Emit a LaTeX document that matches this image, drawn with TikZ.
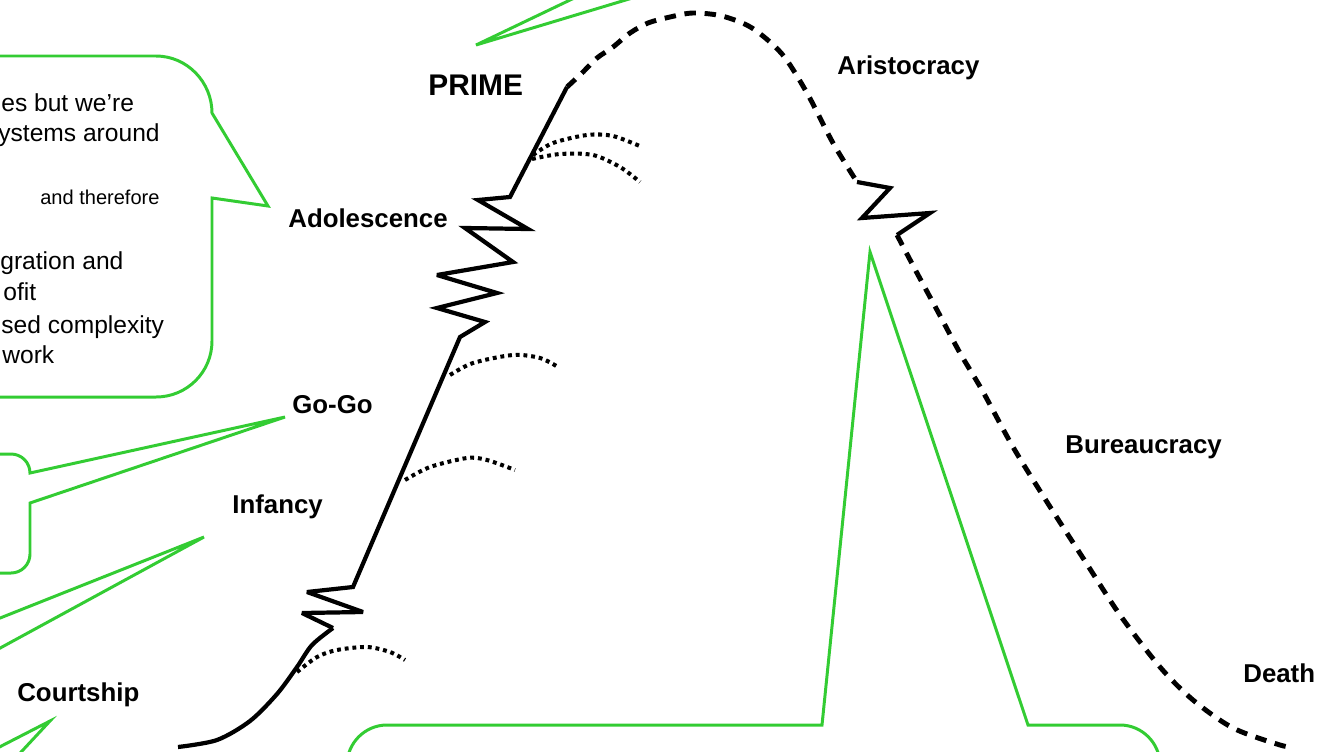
\documentclass[tikz,border=0pt]{standalone}
\usepackage{fontspec}
\setmainfont{Liberation Sans}
\definecolor{calloutgreen}{RGB}{51,204,51}
\begin{document}
\begin{tikzpicture}[x=0.02cm,y=-0.02cm,
 lbl/.style={font=\fontsize{14.7}{16}\selectfont\bfseries, inner sep=0pt, anchor=base west},
 primelbl/.style={font=\fontsize{17}{19}\selectfont\bfseries, inner sep=0pt, anchor=base west},
 body/.style={font=\fontsize{14}{16}\selectfont, inner sep=0pt, anchor=base west},
 smallbody/.style={font=\fontsize{11.4}{13}\selectfont, inner sep=0pt, anchor=base west},
 callout/.style={draw=calloutgreen, line width=1.7pt, line join=miter},
 life/.style={line width=2.4pt, line join=miter, miter limit=4},
 dashedlife/.style={line width=2.8pt, dash pattern=on 6.5pt off 5pt},
 dottedlife/.style={line width=2.3pt, dash pattern=on 2.2pt off 2.2pt}]
\useasboundingbox (0,0) rectangle (1328,751);
\clip (0,0) rectangle (1328,751);

% ---- green callouts ----
\draw[callout] (-100,56) -- (156,56) .. controls (187,56) and (212,82) .. (212,113)
  -- (268,206) -- (212,198) -- (212,341) .. controls (212,372) and (187,397) .. (156,397) -- (-100,397);
\draw[callout] (-100,454) -- (11,454) .. controls (21.5,454) and (30,462.5) .. (30,473)
  -- (285,417) -- (30,503) -- (30,554) .. controls (30,564.5) and (21.5,573) .. (11,573) -- (-100,573);
\draw[callout] (-20,626) -- (204,537) -- (-20,659);
\draw[callout] (-20,757) -- (50,721) -- (-5,780);
\draw[callout] (591,-10) -- (476,45) -- (659,-10);
\draw[callout] (347,800) -- (347,765) .. controls (347,743) and (365,725) .. (387,725)
  -- (822,725) -- (870,252) -- (1028,725) -- (1120,725) .. controls (1142,725) and (1160,743) .. (1160,765) -- (1160,800);

% ---- callout texts (cut by the left edge) ----
\node[body] (t1) at (1,111) {es but we’re};
\node[body] (t2) at (-2,141) {ystems around};
\node[smallbody] (t3) at (40,204) {and therefore};
\node[body] (t4) at (0,269) {gration and};
\node[body] (t5) at (3,300) {ofit};
\node[body] (t6) at (1,333) {sed complexity};
\node[body] (t7) at (2,363) {work};

% ---- life cycle curve ----
\draw[life] plot[smooth] coordinates {(178,747) (217,740) (250,721) (277,694) (297,667) (312,645) (333,628)};
\draw[life] (333,628) -- (302,613) -- (363,612) -- (307,592) -- (353,587) -- (460,337)
  -- (485,322) -- (437,308) -- (497,293) -- (437,275) -- (513,262) -- (465,228)
  -- (528,229) -- (478,200) -- (510,197) -- (567,87);
\draw[dashedlife] plot[smooth] coordinates {(567,87) (582,73) (597,58) (613,47) (630,33) (648,23) (670,17) (693,13) (722,16) (752,28) (782,54) (807,93) (833,143) (857,182)};
\draw[life] (857,182) -- (890,188) -- (862,218) -- (930,213) -- (897,235);
\draw[dashedlife] plot[smooth] coordinates {(897,235) (917,273) (937,310) (960,353) (982,390) (1013,447) (1047,502) (1083,558) (1120,615) (1160,667) (1193,700) (1233,728) (1280,745) (1294,747)};

% ---- dotted branches ----
\draw[dottedlife] plot[smooth] coordinates {(297,672) (317,657) (337,650) (367,647) (390,652) (405,660)};
\draw[dottedlife] plot[smooth] coordinates {(405,480) (430,467) (467,458) (487,460) (515,470)};
\draw[dottedlife] plot[smooth] coordinates {(450,375) (473,363) (513,355) (540,358) (558,367)};
\draw[dottedlife] plot[smooth] coordinates {(533,155) (553,143) (587,135) (613,136) (642,147)};
\draw[dottedlife] plot[smooth] coordinates {(532,159) (560,154) (593,155) (620,167) (640,182)};

% ---- stage labels ----
\node[primelbl] (prime) at (428,95) {PRIME};
\node[lbl] (aristo) at (837,74) {Aristocracy};
\node[lbl] (adol) at (288,227) {Adolescence};
\node[lbl] (gogo) at (292,413) {Go-Go};
\node[lbl] (infancy) at (232,513) {Infancy};
\node[lbl] (court) at (17,701) {Courtship};
\node[lbl] (bureau) at (1065,453) {Bureaucracy};
\node[lbl] (death) at (1243,682) {Death};
\end{tikzpicture}
\end{document}
